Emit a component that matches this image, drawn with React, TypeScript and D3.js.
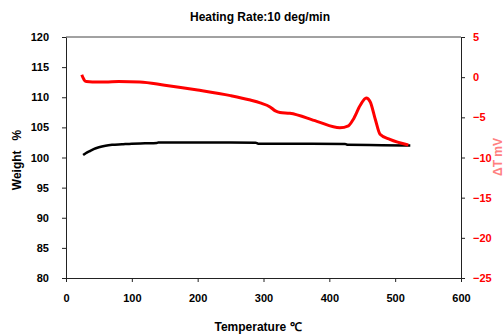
import { useRef, useEffect } from 'react'
import * as d3 from 'd3'

// weight curve (left axis, %)
const weightTemp = [26, 30, 35, 42, 50, 60, 70, 85, 100, 120, 138, 140, 200, 250, 288, 292, 350, 424, 428, 480, 523]
const weightVal = [100.4, 100.7, 101.0, 101.4, 101.7, 101.95, 102.1, 102.2, 102.3, 102.35, 102.4, 102.5, 102.5, 102.5, 102.45, 102.3, 102.3, 102.25, 102.1, 102.05, 102.0]

// DTA curve (right axis, mV)
const dtaTemp = [24, 26, 28, 31, 40, 60, 80, 112, 150, 200, 250, 280, 295, 310, 318, 325, 340, 381, 416, 429, 436, 447, 456, 462, 470, 477, 492, 520]
const dtaVal = [0.3, -0.1, -0.4, -0.55, -0.6, -0.6, -0.55, -0.6, -1.0, -1.6, -2.3, -2.85, -3.2, -3.7, -4.2, -4.4, -4.5, -5.5, -6.3, -6.05, -5.3, -3.5, -2.6, -3.05, -5.3, -7.1, -7.75, -8.45]

const xTicks = [0, 100, 200, 300, 400, 500, 600]
const leftTicks = [80, 85, 90, 95, 100, 105, 110, 115, 120]
const rightTicks = [-25, -20, -15, -10, -5, 0, 5]

const W = 504
const H = 336
const left = 66
const right = 461
const top = 37
const bottom = 278
const font = '"Liberation Sans", Arial, sans-serif'

export default function App() {
    const ref = useRef<SVGSVGElement | null>(null)

    useEffect(() => {
        if (!ref.current) return
        const svg = d3.select(ref.current)
        svg.selectAll('*').remove()

        const x = d3.scaleLinear().domain([0, 600]).range([left, right])
        const yL = d3.scaleLinear().domain([80, 120]).range([bottom, top])
        const yR = d3.scaleLinear().domain([-25, 5]).range([bottom, top])

        svg.append('rect').attr('width', W).attr('height', H).attr('fill', '#fff')

        // top frame
        svg.append('line')
            .attr('x1', left).attr('x2', right)
            .attr('y1', top).attr('y2', top)
            .attr('stroke', '#444').attr('stroke-width', 1)

        const styleAxis = (g: d3.Selection<SVGGElement, unknown, null, undefined>, color: string) => {
            g.select('.domain').attr('stroke', '#222')
            g.selectAll('.tick line').attr('stroke', '#222')
            g.selectAll('.tick text')
                .attr('fill', color)
                .style('font-family', font)
                .style('font-weight', 'bold')
                .style('font-size', '11px')
        }

        const gx = svg.append('g')
            .attr('transform', `translate(0,${bottom})`)
            .call(d3.axisBottom(x).tickValues(xTicks).tickSize(4).tickSizeOuter(0).tickPadding(12))
        styleAxis(gx, '#000')

        const gl = svg.append('g')
            .attr('transform', `translate(${left},0)`)
            .call(d3.axisLeft(yL).tickValues(leftTicks).tickSize(4).tickSizeOuter(0).tickPadding(13))
        styleAxis(gl, '#000')

        const gr = svg.append('g')
            .attr('transform', `translate(${right},0)`)
            .call(d3.axisRight(yR).tickValues(rightTicks).tickSize(4).tickSizeOuter(0).tickPadding(8))
        styleAxis(gr, '#ff0000')

        const weight = weightTemp.map((t, i) => [t, weightVal[i]] as [number, number])
        const dta = dtaTemp.map((t, i) => [t, dtaVal[i]] as [number, number])

        svg.append('path')
            .datum(weight)
            .attr('fill', 'none')
            .attr('stroke', '#000')
            .attr('stroke-width', 2.5)
            .attr('d', d3.line<[number, number]>().x((d) => x(d[0])).y((d) => yL(d[1])).curve(d3.curveMonotoneX))

        svg.append('path')
            .datum(dta)
            .attr('fill', 'none')
            .attr('stroke', '#ff0000')
            .attr('stroke-width', 3)
            .attr('stroke-linejoin', 'round')
            .attr('d', d3.line<[number, number]>().x((d) => x(d[0])).y((d) => yR(d[1])).curve(d3.curveMonotoneX))

        const label = (t: string, tx: number, ty: number, rot: number, color: string, size: number) =>
            svg.append('text')
                .attr('transform', `translate(${tx},${ty}) rotate(${rot})`)
                .attr('text-anchor', 'middle')
                .attr('fill', color)
                .style('font-family', font)
                .style('font-weight', 'bold')
                .style('font-size', `${size}px`)
                .style('white-space', 'pre')
                .text(t)

        label('Heating Rate:10 deg/min', 260, 21, 0, '#000', 12)
        label('Temperature ℃', 258, 331, 0, '#000', 12)
        label('Weight   %', 21, 160, -90, '#000', 12)
        label('ΔT mV', 502, 157, -90, '#ff8080', 12)
    }, [])

    return (
        <svg
            ref={ref}
            width={W}
            height={H}
            style={{ position: 'absolute', left: 0, top: 0, background: 'white' }}
        />
    )
}
